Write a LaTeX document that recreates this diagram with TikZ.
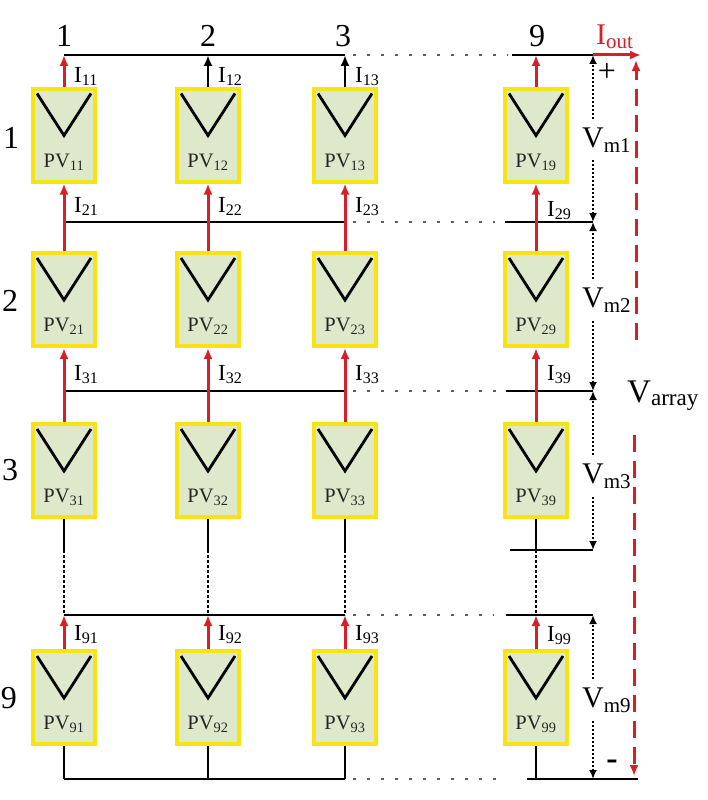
\documentclass[tikz,border=0pt]{standalone}
\usepackage{fontspec}
\setmainfont{Liberation Serif}
\usetikzlibrary{calc,arrows.meta}
\definecolor{pvyel}{RGB}{247,228,18}
\definecolor{pvfill}{RGB}{222,233,203}
\definecolor{myred}{RGB}{212,32,40}
\definecolor{dotgray}{RGB}{95,95,95}
\tikzset{
 pv/.style={draw=pvyel, fill=pvfill, line width=4pt, minimum width=62pt, minimum height=93pt, inner sep=0pt},
 vshape/.style={line width=2.8pt, black},
 pvlab/.style={font=\fontsize{20.5}{20.5}\selectfont, text=black!85, inner sep=0pt, anchor=base},
 wire/.style={line width=2.7pt, black},
 redarr/.style={line width=3pt, myred, -{Latex[length=11pt,width=9pt]}},
 blkarr/.style={line width=2.7pt, black, -{Latex[length=11pt,width=9pt]}},
 gdots/.style={line width=2.5pt, dotgray, dash pattern=on 2.5pt off 11.5pt},
 vdots/.style={line width=2.7pt, black, dash pattern=on 3pt off 2pt},
 vdim/.style={line width=2.3pt, black, dash pattern=on 2pt off 2pt, -{Latex[length=9pt,width=8pt]}},
 reddash/.style={line width=3pt, myred, dash pattern=on 17pt off 9pt, -{Latex[length=11pt,width=9pt]}},
 numlab/.style={font=\fontsize{32}{32}\selectfont, inner sep=0pt, anchor=base},
 ilab/.style={font=\fontsize{23}{23}\selectfont, inner sep=0pt, anchor=base west},
 vlab/.style={font=\fontsize{30}{30}\selectfont, inner xsep=0pt, inner ysep=8pt, anchor=base west},
}
\newcommand{\pvmod}[4]{%
  \node[pv] (#1) at (#2,#3) {};
  \draw[vshape] ($(#1.north west)+(6,-7)$) -- ($(#1.north)+(0,-49)$) -- ($(#1.north east)+(-6,-7)$);
  \node[pvlab] (#1t) at ($(#1)+(0,-32)$) {PV\textsubscript{#4}};
}
\begin{document}
\begin{tikzpicture}[x=1pt,y=1pt]
\useasboundingbox (0,0) rectangle (707,-800);
% bus coordinates
\coordinate (t1) at (64,-55); \coordinate (t2) at (208,-55); \coordinate (t3) at (345,-55);
\coordinate (t9s) at (512,-55); \coordinate (t9) at (536,-55); \coordinate (te) at (593,-55); \coordinate (tr) at (641,-55);
\coordinate (m1) at (64,-222); \coordinate (m3) at (345,-222); \coordinate (m9s) at (505,-222); \coordinate (me) at (593,-222);
\coordinate (n1) at (64,-391); \coordinate (n3) at (345,-391); \coordinate (n9s) at (506,-391); \coordinate (ne) at (593,-391);
\coordinate (d1) at (64,-550); \coordinate (d2) at (208,-550); \coordinate (d3) at (345,-550);
\coordinate (l9s) at (510,-550); \coordinate (l9) at (536,-550); \coordinate (le) at (593,-550);
\coordinate (q1) at (64,-615); \coordinate (q2) at (208,-615); \coordinate (q3) at (345,-615);
\coordinate (q9s) at (506,-615); \coordinate (q9) at (536,-615); \coordinate (qe) at (593,-615);
\coordinate (z1) at (64,-779); \coordinate (z2) at (208,-779); \coordinate (z3) at (345,-779);
\coordinate (z9s) at (527,-779); \coordinate (z9) at (536,-779); \coordinate (ze) at (593,-779); \coordinate (zr) at (638,-779);
% modules
\pvmod{p11}{64}{-135}{11} \pvmod{p12}{208}{-135}{12} \pvmod{p13}{345}{-135}{13} \pvmod{p19}{536}{-135}{19}
\pvmod{p21}{64}{-299.5}{21} \pvmod{p22}{208}{-299.5}{22} \pvmod{p23}{345}{-299.5}{23} \pvmod{p29}{536}{-299.5}{29}
\pvmod{p31}{64}{-470.5}{31} \pvmod{p32}{208}{-470.5}{32} \pvmod{p33}{345}{-470.5}{33} \pvmod{p39}{536}{-470.5}{39}
\pvmod{p91}{64}{-697.5}{91} \pvmod{p92}{208}{-697.5}{92} \pvmod{p93}{345}{-697.5}{93} \pvmod{p99}{536}{-697.5}{99}
% horizontal buses
\draw[wire] (t1) -- (t3); \draw[gdots] ($(t3)+(8,0)$) -- ($(t9s)+(-4,0)$); \draw[wire] (t9s) -- (te);
\draw[wire] (m1) -- (m3); \draw[gdots] ($(m3)+(8,0)$) -- ($(m9s)+(-10,0)$); \draw[wire] (m9s) -- (me);
\draw[wire] (n1) -- (n3); \draw[gdots] ($(n3)+(8,0)$) -- ($(n9s)+(-10,0)$); \draw[wire] (n9s) -- (ne);
\draw[wire] (l9s) -- (le);
\draw[wire] (q1) -- (q3); \draw[gdots] ($(q3)+(8,0)$) -- ($(q9s)+(-12,0)$); \draw[wire] (q9s) -- (qe);
\draw[wire] (z1) -- (z3); \draw[gdots] ($(z3)+(8,0)$) -- ($(z9s)+(-24,0)$); \draw[wire] (z9s) -- (zr);
% verticals: row 3 to row 9
\draw[wire] (p31.south) -- (d1); \draw[vdots] (d1) -- (q1);
\draw[wire] (p32.south) -- (d2); \draw[vdots] (d2) -- (q2);
\draw[wire] (p33.south) -- (d3); \draw[vdots] (d3) -- (q3);
\draw[wire] (p39.south) -- (l9); \draw[vdots] (l9) -- (q9);
% bottom
\draw[wire] (p91.south) -- (z1); \draw[wire] (p92.south) -- (z2);
\draw[wire] (p93.south) -- (z3); \draw[wire] (p99.south) -- (z9);
% current arrows
\draw[redarr] (p11.north) -- (t1); \draw[blkarr] (p12.north) -- (t2);
\draw[blkarr] (p13.north) -- (t3); \draw[redarr] (p19.north) -- (t9);
\draw[redarr] (p21.north) -- (p11.south); \draw[redarr] (p22.north) -- (p12.south);
\draw[redarr] (p23.north) -- (p13.south); \draw[redarr] (p29.north) -- (p19.south);
\draw[redarr] (p31.north) -- (p21.south); \draw[redarr] (p32.north) -- (p22.south);
\draw[redarr] (p33.north) -- (p23.south); \draw[redarr] (p39.north) -- (p29.south);
\draw[redarr] (p91.north) -- (q1); \draw[redarr] (p92.north) -- (q2);
\draw[redarr] (p93.north) -- (q3); \draw[redarr] (p99.north) -- (q9);
% current labels
\node[ilab] (i11) at (74,-82) {I\textsubscript{11}};
\node[ilab] (i12) at (218,-82) {I\textsubscript{12}};
\node[ilab] (i13) at (355,-82) {I\textsubscript{13}};
\node[ilab] (i21) at (74,-212) {I\textsubscript{21}};
\node[ilab] (i22) at (218,-212) {I\textsubscript{22}};
\node[ilab] (i23) at (355,-212) {I\textsubscript{23}};
\node[ilab] (i29) at (547,-216) {I\textsubscript{29}};
\node[ilab] (i31) at (74,-380) {I\textsubscript{31}};
\node[ilab] (i32) at (218,-380) {I\textsubscript{32}};
\node[ilab] (i33) at (355,-380) {I\textsubscript{33}};
\node[ilab] (i39) at (547,-380) {I\textsubscript{39}};
\node[ilab] (i91) at (74,-640) {I\textsubscript{91}};
\node[ilab] (i92) at (218,-640) {I\textsubscript{92}};
\node[ilab] (i93) at (355,-640) {I\textsubscript{93}};
\node[ilab] (i99) at (547,-641) {I\textsubscript{99}};
% column and row numbers
\node[numlab] (c1) at (64,-47) {1}; \node[numlab] (c2) at (208,-47) {2};
\node[numlab] (c3) at (343,-47) {3}; \node[numlab] (c9) at (537,-47) {9};
\node[numlab] (r1) at (11,-148) {1}; \node[numlab] (r2) at (10,-311) {2};
\node[numlab] (r3) at (10,-480) {3}; \node[numlab] (r9) at (9,-708) {9};
% module voltages
\node[vlab] (vm1) at (582,-147) {V\textsubscript{m1}};
\node[vlab] (vm2) at (582,-307) {V\textsubscript{m2}};
\node[vlab] (vm3) at (582,-483) {V\textsubscript{m3}};
\node[vlab] (vm9) at (582,-707) {V\textsubscript{m9}};
\draw[vdim] (vm1.north -| te) -- (te); \draw[vdim] (vm1.south -| te) -- (me);
\draw[vdim] (vm2.north -| me) -- (me); \draw[vdim] (vm2.south -| me) -- (ne);
\draw[vdim] (vm3.north -| ne) -- (ne); \draw[vdim] (vm3.south -| ne) -- (le);
\draw[vdim] (vm9.north -| qe) -- (qe); \draw[vdim] (vm9.south -| qe) -- (ze);
\node[font=\fontsize{32}{32}\selectfont, inner sep=0pt] (plus) at (607,-72) {+};
\node[font=\fontsize{34}{34}\selectfont\bfseries, inner sep=0pt] (minus) at (612,-765) {-};
% output current and array voltage
\draw[redarr] (te) -- (tr);
\node[ilab, text=myred, font=\fontsize{30}{30}\selectfont] (iout) at (596,-45) {I\textsubscript{out}};
\node[font=\fontsize{33}{33}\selectfont, inner sep=0pt, anchor=base west] (varr) at (627,-402) {V\textsubscript{array}};
\coordinate (ru) at (636,-340); \coordinate (rt) at (636,-60);
\coordinate (rl) at (634,-435); \coordinate (rb) at (634,-776);
\draw[reddash] (ru) -- (rt);
\draw[reddash] (rl) -- (rb);
\end{tikzpicture}
\end{document}
